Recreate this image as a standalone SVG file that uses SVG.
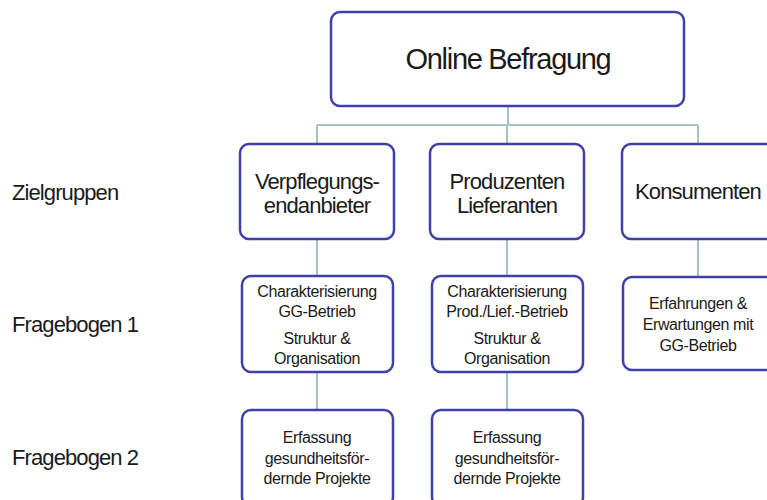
<svg xmlns="http://www.w3.org/2000/svg" width="767" height="500" viewBox="0 0 767 500">
  <style>
    .box { fill: #ffffff; stroke: #3f41a8; stroke-width: 2.5; }
    .link { stroke: #a2c3c3; stroke-width: 2; fill: none; }
    text { font-family: "Liberation Sans", Arial, sans-serif; fill: #1a1a1a; }
    .title { font-size: 29px; letter-spacing: -1.3px; text-anchor: middle; }
    .lvl1 { font-size: 22px; letter-spacing: -0.9px; text-anchor: middle; }
    .side { font-size: 22px; letter-spacing: -0.9px; }
    .lvl2 { font-size: 16px; letter-spacing: -0.4px; text-anchor: middle; }
  </style>

  <!-- connectors -->
  <g id="connectors">
    <path class="link" d="M508 106 V125 M317 125 H698 M317 125 V144 M507 125 V144 M698 125 V144"/>
    <path class="link" d="M317 239 V276 M507 239 V276 M698 239 V277"/>
    <path class="link" d="M317 372 V410 M507 372 V410"/>
  </g>

  <!-- row labels -->
  <g id="labels">
    <text class="side" x="12" y="200">Zielgruppen</text>
    <text class="side" x="12" y="332">Fragebogen 1</text>
    <text class="side" x="12" y="465">Fragebogen 2</text>
  </g>

  <g id="root">
    <rect class="box" x="331" y="12" width="353" height="94" rx="9"/>
    <text class="title" x="508" y="69">Online Befragung</text>
  </g>

  <g id="verpflegung">
    <rect class="box" x="240" y="144" width="154" height="95" rx="9"/>
    <text class="lvl1" x="317" y="189">Verpflegungs-</text>
    <text class="lvl1" x="317" y="213">endanbieter</text>
  </g>

  <g id="produzenten">
    <rect class="box" x="430" y="144" width="154" height="95" rx="9"/>
    <text class="lvl1" x="507" y="189">Produzenten</text>
    <text class="lvl1" x="507" y="213">Lieferanten</text>
  </g>

  <g id="konsumenten">
    <rect class="box" x="622" y="144" width="154" height="95" rx="9"/>
    <text class="lvl1" x="698" y="199">Konsumenten</text>
  </g>

  <g id="fb1-verpflegung">
    <rect class="box" x="242" y="276" width="151" height="96" rx="9"/>
    <text class="lvl2" x="317" y="297">Charakterisierung</text>
    <text class="lvl2" x="317" y="317">GG-Betrieb</text>
    <text class="lvl2" x="317" y="344">Struktur &amp;</text>
    <text class="lvl2" x="317" y="364">Organisation</text>
  </g>

  <g id="fb1-produzenten">
    <rect class="box" x="432" y="276" width="151" height="96" rx="9"/>
    <text class="lvl2" x="507" y="297">Charakterisierung</text>
    <text class="lvl2" x="507" y="317">Prod./Lief.-Betrieb</text>
    <text class="lvl2" x="507" y="344">Struktur &amp;</text>
    <text class="lvl2" x="507" y="364">Organisation</text>
  </g>

  <g id="fb1-konsumenten">
    <rect class="box" x="623" y="277" width="154" height="93" rx="9"/>
    <text class="lvl2" x="698" y="309">Erfahrungen &amp;</text>
    <text class="lvl2" x="698" y="330">Erwartungen mit</text>
    <text class="lvl2" x="698" y="351">GG-Betrieb</text>
  </g>

  <g id="fb2-verpflegung">
    <rect class="box" x="242" y="410" width="151" height="96" rx="9"/>
    <text class="lvl2" x="317" y="443">Erfassung</text>
    <text class="lvl2" x="317" y="464">gesundheitsför-</text>
    <text class="lvl2" x="317" y="484">dernde Projekte</text>
  </g>

  <g id="fb2-produzenten">
    <rect class="box" x="432" y="410" width="151" height="96" rx="9"/>
    <text class="lvl2" x="507" y="443">Erfassung</text>
    <text class="lvl2" x="507" y="464">gesundheitsför-</text>
    <text class="lvl2" x="507" y="484">dernde Projekte</text>
  </g>
</svg>
